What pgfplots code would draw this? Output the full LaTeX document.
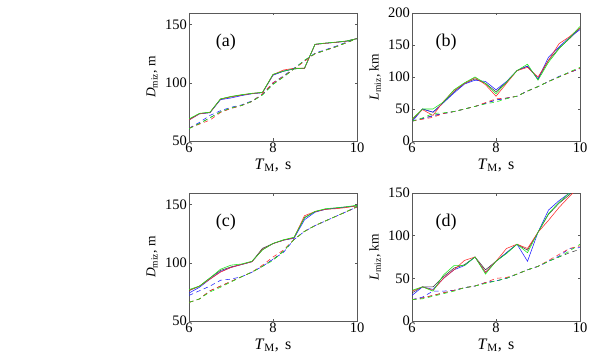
\documentclass[border=0pt]{standalone}
\usepackage{fontspec}
\setmainfont{Liberation Serif}
\usepackage{pgfplots}
\pgfplotsset{compat=1.18}
\definecolor{mblue}{RGB}{30,30,255}
\definecolor{mred}{RGB}{255,40,40}
\definecolor{mgreen}{RGB}{20,230,20}
\definecolor{mblack}{RGB}{60,60,60}

\tikzset{lab/.style={font=\fontsize{18}{20}\selectfont}}
\pgfplotsset{
  panel/.style={
    width=168pt,height=128pt,scale only axis,anchor=south west,
    xmin=6,xmax=10,xtick={6,8,10},
    tick align=inside,major tick length=2.5pt,
    axis line style={black!65,line width=0.7pt},
    tick style={black!65,line width=0.5pt},
    /pgf/number format/assume math mode=true,
    tick label style={font=\fontsize{14.5}{16}\selectfont},
    xticklabel style={inner sep=1pt,yshift=-1pt},
    yticklabel style={inner sep=1pt,xshift=-1pt},
    xlabel={\textit{T}\textsubscript{M},\hspace{0.4em}s},
    every axis x label/.style={at={(axis description cs:0.5,-0.19)},anchor=center,
      font=\fontsize{16}{18}\selectfont},
    every axis y label/.style={at={(axis description cs:-0.22,0.5)},anchor=center,
      rotate=90,font=\fontsize{13.5}{15}\selectfont},
    clip=true,
  },
  sol/.style={line width=0.55pt},
  das/.style={line width=0.55pt,dash pattern=on 4.5pt off 3.5pt},
}

\begin{document}
\begin{tikzpicture}
\useasboundingbox (0,0) rectangle (591pt,359pt);

% (a)
\begin{axis}[panel,at={(189pt,218pt)},ymin=50,ymax=160,ytick={50,100,150},
  ylabel={\textit{D}\textsubscript{miz}, m}]
\addplot[sol,mblack] coordinates {(6,68.5)(6.25,73.5)(6.5,74.5)(6.75,86)(7,88)(7.25,89.5)(7.5,90.8)(7.75,91.7)(8,107)(8.25,110)(8.5,112)(8.75,112.5)(9,133)(9.25,134)(9.5,134.8)(9.75,135.8)(10,138)};
\addplot[sol,mblue] coordinates {(6,68)(6.25,73.3)(6.5,74.3)(6.75,85.5)(7,87)(7.25,89)(7.5,90.6)(7.75,91.5)(8,106.5)(8.25,110)(8.5,112)(8.75,112.5)(9,133)(9.25,134)(9.5,134.8)(9.75,135.8)(10,138)};
\addplot[sol,mred] coordinates {(6,68)(6.25,73.5)(6.5,74.5)(6.75,86)(7,88)(7.25,89.5)(7.5,90.8)(7.75,91.7)(8,107)(8.25,111)(8.5,112.5)(8.75,112.5)(9,133)(9.25,134)(9.5,134.8)(9.75,135.8)(10,138)};
\addplot[sol,mgreen] coordinates {(6,69)(6.25,73.8)(6.5,74.8)(6.75,86.2)(7,88.3)(7.25,89.8)(7.5,91)(7.75,91.8)(8,107.3)(8.25,110)(8.5,112)(8.75,112.7)(9,133.2)(9.25,134.2)(9.5,135)(9.75,136)(10,138)};
\addplot[das,mblack] coordinates {(6,61)(6.25,65)(6.5,70)(6.75,75)(7,78)(7.25,80.5)(7.5,84)(7.75,90)(8,99)(8.25,105)(8.5,112)(8.75,119)(9,125)(9.25,128)(9.5,131)(9.75,134.5)(10,138)};
\addplot[das,mblue] coordinates {(6,61)(6.25,66)(6.5,72)(6.75,76)(7,79)(7.25,81)(7.5,84.5)(7.75,90)(8,100)(8.25,106)(8.5,112.5)(8.75,119)(9,125.5)(9.25,128.5)(9.5,131.5)(9.75,135)(10,138)};
\addplot[das,mred] coordinates {(6,61)(6.25,64.5)(6.5,68)(6.75,74.5)(7,78)(7.25,80.5)(7.5,84)(7.75,90.5)(8,100)(8.25,105.5)(8.5,112)(8.75,118.5)(9,125)(9.25,128)(9.5,131)(9.75,134.5)(10,138)};
\addplot[das,mgreen] coordinates {(6,60.5)(6.25,65)(6.5,70)(6.75,75)(7,78.5)(7.25,80.5)(7.5,84)(7.75,89.5)(8,98.5)(8.25,105)(8.5,112)(8.75,119.5)(9,125)(9.25,128)(9.5,131)(9.75,134.5)(10,138)};
\node[lab] at (axis cs:6.88,135) {(a)};
\end{axis}

% (b)
\begin{axis}[panel,at={(412pt,218pt)},ymin=0,ymax=200,ytick={0,50,100,150,200},
  ylabel={\textit{L}\textsubscript{miz}, km}]
\addplot[sol,mblack] coordinates {(6,32)(6.25,50)(6.5,45)(6.75,60)(7,77)(7.25,90)(7.5,97)(7.75,90)(8,77)(8.25,92)(8.5,110)(8.75,117)(9,97)(9.25,126)(9.5,145)(9.75,160)(10,176)};
\addplot[sol,mblue] coordinates {(6,30)(6.25,50)(6.5,45)(6.75,60)(7,75)(7.25,89)(7.5,95)(7.75,93)(8,80)(8.25,93)(8.5,110)(8.75,117)(9,97)(9.25,131)(9.5,147)(9.75,162)(10,174)};
\addplot[sol,mred] coordinates {(6,34)(6.25,49)(6.5,40)(6.75,62)(7,79)(7.25,90)(7.5,99)(7.75,88)(8,70)(8.25,90)(8.5,110)(8.75,115)(9,100)(9.25,126)(9.5,152)(9.75,163)(10,177)};
\addplot[sol,mgreen] coordinates {(6,34)(6.25,50)(6.5,50)(6.75,61)(7,80)(7.25,91)(7.5,100)(7.75,90)(8,74)(8.25,92)(8.5,110)(8.75,120)(9,95)(9.25,123)(9.5,144)(9.75,161)(10,179)};
\addplot[das,mblack] coordinates {(6,31)(6.25,35)(6.5,40)(6.75,43)(7,46)(7.25,50)(7.5,54)(7.75,59)(8,64)(8.25,67)(8.5,70)(8.75,78)(9,85)(9.25,93)(9.5,100)(9.75,107)(10,114)};
\addplot[das,mblue] coordinates {(6,31)(6.25,35)(6.5,39)(6.75,43)(7,46)(7.25,50)(7.5,54)(7.75,59)(8,64)(8.25,67)(8.5,70)(8.75,78)(9,85)(9.25,93)(9.5,101)(9.75,107)(10,113)};
\addplot[das,mred] coordinates {(6,31)(6.25,34)(6.5,37)(6.75,43)(7,46)(7.25,50)(7.5,54)(7.75,60)(8,66)(8.25,67)(8.5,70)(8.75,78)(9,85)(9.25,93)(9.5,100)(9.75,107)(10,114)};
\addplot[das,mgreen] coordinates {(6,31)(6.25,36)(6.5,43)(6.75,44)(7,46)(7.25,50)(7.5,54)(7.75,58)(8,61)(8.25,66)(8.5,70)(8.75,78)(9,85)(9.25,93)(9.5,100)(9.75,108)(10,115)};
\node[lab] at (axis cs:6.81,155) {(b)};
\end{axis}

% (c)
\begin{axis}[panel,at={(189pt,38pt)},ymin=50,ymax=160,ytick={50,100,150},
  ylabel={\textit{D}\textsubscript{miz}, m}]
\addplot[sol,mblack] coordinates {(6,76)(6.25,80)(6.5,87)(6.75,93.5)(7,96.5)(7.25,98.6)(7.5,101)(7.75,112.5)(8,116.5)(8.25,119.5)(8.5,121.5)(8.75,139)(9,144)(9.25,146)(9.5,147)(9.75,148)(10,149)};
\addplot[sol,mblue] coordinates {(6,74)(6.25,79)(6.5,86)(6.75,92.5)(7,96)(7.25,98.5)(7.5,101)(7.75,111.5)(8,116.5)(8.25,119.5)(8.5,121)(8.75,137)(9,143.5)(9.25,146)(9.5,147)(9.75,148)(10,149)};
\addplot[sol,mred] coordinates {(6,76.5)(6.25,80)(6.5,86)(6.75,92)(7,96)(7.25,98.6)(7.5,101)(7.75,111.5)(8,116.5)(8.25,119.5)(8.5,121.5)(8.75,140.5)(9,144)(9.25,146)(9.5,146.5)(9.75,147.5)(10,149)};
\addplot[sol,mgreen] coordinates {(6,77)(6.25,80)(6.5,87)(6.75,94.5)(7,98)(7.25,99)(7.5,101.4)(7.75,111)(8,116.7)(8.25,119.8)(8.5,122)(8.75,138.5)(9,144.2)(9.25,146.5)(9.5,147.3)(9.75,148.2)(10,149.5)};
\addplot[das,mblack] coordinates {(6,66)(6.25,69)(6.5,76)(6.75,80)(7,84)(7.25,88)(7.5,92)(7.75,97)(8,103)(8.25,110)(8.5,120)(8.75,127)(9,132)(9.25,136)(9.5,140)(9.75,144)(10,148)};
\addplot[das,mblue] coordinates {(6,72)(6.25,76)(6.5,80)(6.75,85)(7,86)(7.25,88)(7.5,92)(7.75,97)(8,103)(8.25,109)(8.5,120)(8.75,127)(9,132)(9.25,136)(9.5,140)(9.75,144)(10,148)};
\addplot[das,mred] coordinates {(6,66)(6.25,69)(6.5,76)(6.75,80)(7,84)(7.25,88)(7.5,92)(7.75,98)(8,105)(8.25,111)(8.5,120)(8.75,127)(9,132)(9.25,136)(9.5,140)(9.75,144)(10,148)};
\addplot[das,mgreen] coordinates {(6,66)(6.25,69)(6.5,75)(6.75,79)(7,83.5)(7.25,88)(7.5,92)(7.75,97)(8,102)(8.25,110)(8.5,120)(8.75,127)(9,132)(9.25,136)(9.5,140)(9.75,144)(10,148.5)};
\node[lab] at (axis cs:6.88,135) {(c)};
\end{axis}

% (d)
\begin{axis}[panel,at={(412pt,38pt)},ymin=0,ymax=150,ytick={0,50,100,150},
  ylabel={\textit{L}\textsubscript{miz}, km}]
\addplot[sol,mblack] coordinates {(6,33)(6.25,40)(6.5,40)(6.75,52)(7,62)(7.25,66)(7.5,75)(7.75,60)(8,70)(8.25,80)(8.5,90)(8.75,83)(9,104)(9.25,125)(9.5,138)(9.75,148)(10,160)};
\addplot[sol,mblue] coordinates {(6,30)(6.25,40)(6.5,37)(6.75,50)(7,60)(7.25,65)(7.5,75)(7.75,57)(8,70)(8.25,80)(8.5,90)(8.75,70)(9,104)(9.25,130)(9.5,141)(9.75,150)(10,162)};
\addplot[sol,mred] coordinates {(6,35)(6.25,40)(6.5,36)(6.75,50)(7,60)(7.25,71)(7.5,75)(7.75,57)(8,70)(8.25,85)(8.5,90)(8.75,85)(9,104)(9.25,118)(9.5,133)(9.75,146)(10,158)};
\addplot[sol,mgreen] coordinates {(6,36)(6.25,40)(6.5,35)(6.75,54)(7,65)(7.25,65)(7.5,75)(7.75,55)(8,70)(8.25,79)(8.5,90)(8.75,80)(9,104)(9.25,126)(9.5,139)(9.75,150)(10,162)};
\addplot[das,mblack] coordinates {(6,25)(6.25,27)(6.5,30)(6.75,33)(7,36)(7.25,39)(7.5,41)(7.75,45)(8,47)(8.25,50)(8.5,55)(8.75,60)(9,64)(9.25,70)(9.5,75)(9.75,80)(10,84)};
\addplot[das,mblue] coordinates {(6,25)(6.25,28)(6.5,35)(6.75,35)(7,36)(7.25,39)(7.5,41)(7.75,45)(8,47)(8.25,50)(8.5,55)(8.75,60)(9,64)(9.25,70)(9.5,76)(9.75,85)(10,86)};
\addplot[das,mred] coordinates {(6,25)(6.25,27)(6.5,30)(6.75,33)(7,36)(7.25,39)(7.5,41)(7.75,45)(8,50)(8.25,51)(8.5,55)(8.75,60)(9,64)(9.25,71)(9.5,78)(9.75,85)(10,88)};
\addplot[das,mgreen] coordinates {(6,25)(6.25,26)(6.5,29)(6.75,32)(7,35)(7.25,39)(7.5,41)(7.75,44)(8,47)(8.25,50)(8.5,55)(8.75,60)(9,64)(9.25,70)(9.5,75)(9.75,82)(10,90)};
\node[lab] at (axis cs:6.81,116) {(d)};
\end{axis}
\end{tikzpicture}
\end{document}
